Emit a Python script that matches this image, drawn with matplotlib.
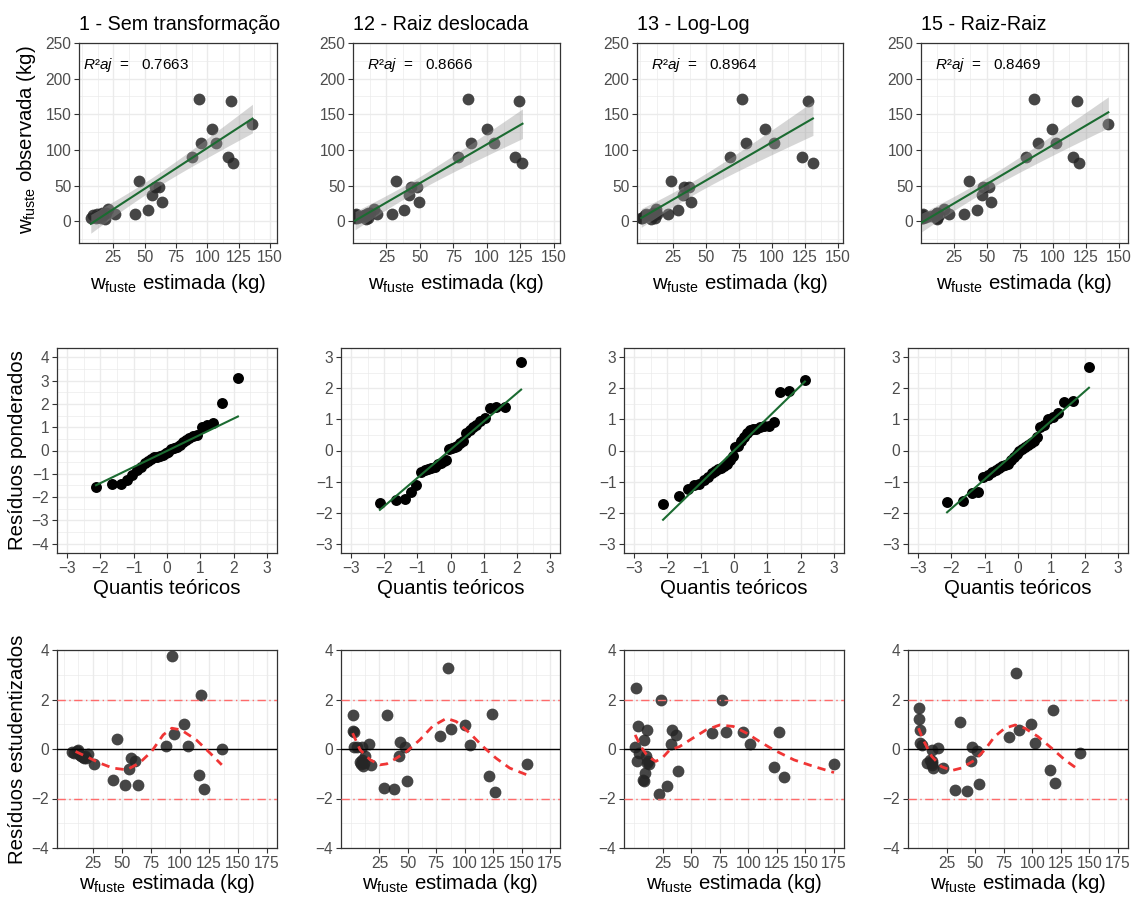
import numpy as np
import matplotlib
matplotlib.use("Agg")
import matplotlib.pyplot as plt

plt.rcParams["font.family"] = ["Liberation Sans", "DejaVu Sans"]
plt.rcParams["mathtext.fontset"] = "custom"
plt.rcParams["mathtext.rm"] = "Liberation Sans"
plt.rcParams["mathtext.it"] = "Liberation Sans:italic"
plt.rcParams["mathtext.bf"] = "Liberation Sans:bold"

W, H = 1136, 899

# ---- data ----
titles = ["1 - Sem transformação", "12 - Raiz deslocada", "13 - Log-Log", "15 - Raiz-Raiz"]
r2aj = ["0.7663", "0.8666", "0.8964", "0.8469"]

# observed stem biomass (kg), same trees for every model
obs = [171, 169, 136, 129, 110, 110, 90, 90, 81, 57, 48, 48, 36, 27, 16, 10, 17, 10,
       4, 8, 5, 10, 6, 7, 9, 5, 12, 8, 3, 11]

est_1 = [93, 118.5, 136, 103.5, 95, 107, 88, 116.5, 120.5, 45.5, 58, 61.5, 56, 63.5, 52.5, 42, 20.5, 26,
         7, 9, 11, 12, 13, 14, 15, 15.5, 16, 17, 18, 19]
est_12 = [85.5, 124, 155, 100, 88, 105, 78, 121, 126.5, 32, 43, 47.5, 42, 49, 38, 29, 15.5, 18,
          1.5, 1.5, 3, 2.5, 5, 9.5, 8, 11, 12.5, 9, 10, 11.5]
est_13 = [77, 127, 175, 95, 80.5, 101.5, 68, 122.5, 131, 23.5, 33.5, 37, 32.5, 38.5, 29, 21.5, 11.8, 13.2,
          1.5, 3.5, 0.9, 4.4, 2.9, 8.8, 10.3, 11.2, 9.7, 8.2, 8.5, 12]
est_15 = [86, 118.5, 142, 99, 88.5, 102.5, 79.5, 115.5, 120, 36.5, 47, 51.5, 46, 53, 42.5, 32.5, 17.8, 21.5,
          0.5, 0.5, 1.7, 1.7, 3.7, 7.5, 10.4, 11.9, 12.5, 13.4, 12.5, 12]

# studentized residuals
res_1 = [3.77, 2.19, 0.02, 1.01, 0.6, 0.14, 0.14, -1.06, -1.62, 0.42, -0.37, -0.48, -0.81, -1.47, -1.47, -1.24, -0.2, -0.6,
         -0.12, -0.15, -0.1, -0.03, -0.2, -0.25, -0.3, -0.28, -0.33, -0.35, -0.3, -0.38]
res_12 = [3.29, 1.42, -0.6, 0.98, 0.81, 0.18, 0.54, -1.11, -1.74, 1.38, 0.28, 0.1, -0.3, -1.31, -1.62, -1.58, 0.21, -0.64,
          1.38, 0.72, 0.67, 0.1, 0.1, 0.1, -0.54, -0.68, -0.3, -0.6, -0.45, -0.55]
res_13 = [1.96, 0.67, -0.6, 0.68, 0.7, 0.19, 0.64, -0.73, -1.15, 1.98, 0.77, 0.57, 0.2, -0.88, -1.49, -1.81, 0.75, -0.6,
          2.45, 0.93, 0.1, -0.17, -0.5, 0.37, -0.3, -0.57, -0.97, -1.24, -1.3, -0.5]
res_15 = [3.06, 1.58, -0.15, 1.02, 0.77, 0.26, 0.48, -0.84, -1.38, 1.11, 0.1, -0.1, -0.48, -1.42, -1.71, -1.67, 0.03, -0.77,
          1.65, 1.22, 0.77, 0.24, 0.17, -0.57, -0.44, -0.5, -0.64, -0.77, -0.03, -0.55]

# normal QQ: theoretical quantiles (n = 30) and sorted weighted residuals
qq_theo = [-2.128, -1.645, -1.383, -1.192, -1.036, -0.903, -0.783, -0.674, -0.573, -0.477,
           -0.385, -0.297, -0.210, -0.126, -0.042, 0.042, 0.126, 0.210, 0.297, 0.385,
           0.477, 0.573, 0.674, 0.783, 0.903, 1.036, 1.192, 1.383, 1.645, 2.128]
qq_1 = [-1.58, -1.45, -1.45, -1.25, -1.05, -0.85, -0.70, -0.55, -0.45, -0.35, -0.30, -0.28, -0.25, -0.20, -0.12,
        -0.05, 0.05, 0.10, 0.15, 0.25, 0.35, 0.45, 0.55, 0.62, 0.68, 1.00, 1.10, 1.18, 2.05, 3.13]
qq_12 = [-1.68, -1.58, -1.55, -1.33, -1.10, -0.68, -0.62, -0.60, -0.55, -0.52, -0.45, -0.40, -0.35, -0.30, 0.05,
         0.08, 0.12, 0.15, 0.25, 0.30, 0.55, 0.65, 0.75, 0.82, 0.95, 1.05, 1.36, 1.39, 1.40, 2.84]
qq_13 = [-1.72, -1.45, -1.25, -1.10, -1.08, -0.95, -0.85, -0.72, -0.65, -0.58, -0.55, -0.50, -0.45, -0.30, -0.18,
         0.10, 0.15, 0.30, 0.42, 0.55, 0.65, 0.68, 0.70, 0.75, 0.78, 0.80, 0.92, 1.87, 1.90, 2.28]
qq_15 = [-1.65, -1.62, -1.38, -1.33, -0.85, -0.78, -0.70, -0.62, -0.55, -0.50, -0.46, -0.44, -0.30, -0.20, -0.10,
         -0.02, 0.05, 0.12, 0.18, 0.25, 0.30, 0.45, 0.75, 0.82, 1.02, 1.08, 1.20, 1.55, 1.58, 2.70]
qq_line_x = [-2.128, 2.128]
qq_line_1 = [-1.49, 1.46]
qq_line_12 = [-1.91, 1.96]
qq_line_13 = [-2.23, 2.22]
qq_line_15 = [-1.99, 2.02]

# loess smoother of the residual plots
lo_x_1 = [10, 19, 31, 42, 54, 65, 75.5, 85.5, 93, 101, 114, 126, 136]
lo_y_1 = [-0.1, -0.3, -0.57, -0.77, -0.84, -0.57, -0.1, 0.57, 0.84, 0.77, 0.37, -0.17, -0.64]
lo_x_12 = [1.5, 8, 17, 25.5, 31.5, 40, 49, 60.5, 72, 84, 92.5, 104.5, 116, 127.5, 139.5, 155]
lo_y_12 = [0.64, -0.03, -0.44, -0.64, -0.6, -0.37, -0.1, 0.37, 0.93, 1.24, 1.11, 0.64, 0.1, -0.37, -0.77, -1.05]
lo_x_13 = [1, 6, 12, 19, 25, 31, 40, 51.5, 63, 75, 87, 98.5, 110, 122, 140, 157, 175]
lo_y_13 = [0.57, 0.1, -0.3, -0.5, -0.35, -0.05, 0.1, 0.44, 0.77, 0.97, 0.91, 0.64, 0.3, -0.03, -0.44, -0.7, -0.95]
lo_x_15 = [0.5, 4.5, 12, 20.5, 29.5, 38, 50, 58.5, 67, 76, 85, 93.5, 105, 117, 128.5, 141.5]
lo_y_15 = [0.84, 0.37, -0.3, -0.71, -0.87, -0.77, -0.44, -0.03, 0.5, 0.84, 0.97, 0.84, 0.5, 0.03, -0.44, -0.87]

ests = [est_1, est_12, est_13, est_15]
ress = [res_1, res_12, res_13, res_15]
qqs = [qq_1, qq_12, qq_13, qq_15]
qq_lines = [qq_line_1, qq_line_12, qq_line_13, qq_line_15]
los = [(lo_x_1, lo_y_1), (lo_x_12, lo_y_12), (lo_x_13, lo_y_13), (lo_x_15, lo_y_15)]

# ---- layout (pixels) ----
top_lr = [(79, 277), (353, 560), (637, 843), (921, 1128)]
low_lr = [(57, 277), (341, 560), (624, 844), (908, 1128)]
TOP_TB = (43, 242.5)
MID_TB = (348, 553)
BOT_TB = (650, 848)
top_xlim = [(-2.4, 155.6), (0.7, 154.5), (-2.3, 153.8), (2.7, 156.9)]
bot_xlim = [(-6, 183.6), (-8.75, 183.75), (-8.75, 183.75), (-8.75, 183.75)]
r2_xfrac = [0.019, 0.068, 0.068, 0.068]

GREEN = "#1b6b31"
XLAB = r"$\mathregular{w_{fuste}}$ estimada (kg)"


def rect(lr, tb):
    l, r = lr
    t, b = tb
    return [l / W, 1 - b / H, (r - l) / W, (b - t) / H]


def style(ax, xmaj, xmin, ymaj, ymin):
    ax.set_xticks(xmaj)
    ax.set_xticks(xmin, minor=True)
    ax.set_yticks(ymaj)
    ax.set_yticks(ymin, minor=True)
    ax.grid(which="major", color="#ebebeb", lw=1.0)
    ax.grid(which="minor", color="#ebebeb", lw=0.5)
    ax.set_axisbelow(True)
    ax.tick_params(which="major", labelsize=11.2, labelcolor="#4d4d4d", color="#333333",
                   length=3.5, width=0.8, pad=2)
    ax.tick_params(which="minor", length=0)
    for s in ax.spines.values():
        s.set_color("#333333")
        s.set_linewidth(0.9)


def lm_band(x, y, t=2.05):
    b1, b0 = np.polyfit(x, y, 1)
    xs = np.linspace(x.min(), x.max(), 80)
    fit = b0 + b1 * xs
    s = np.sqrt(np.sum((y - (b0 + b1 * x)) ** 2) / (len(x) - 2))
    se = s * np.sqrt(1 / len(x) + (xs - x.mean()) ** 2 / np.sum((x - x.mean()) ** 2))
    return xs, fit, fit - t * se, fit + t * se


fig = plt.figure(figsize=(W / 100, H / 100), dpi=100)
y_obs = np.array(obs, float)

for i in range(4):
    x_est = np.array(ests[i], float)

    # --- top: observed vs estimated ---
    ax = fig.add_axes(rect(top_lr[i], TOP_TB))
    keep = x_est <= 150
    ax.scatter(x_est[keep], y_obs[keep], s=72, color="#262626", alpha=0.85, lw=0, zorder=2)
    xs, fit, lo, hi = lm_band(x_est[keep], y_obs[keep])
    ax.fill_between(xs, lo, hi, color="#999999", alpha=0.4, lw=0, zorder=3)
    ax.plot(xs, fit, color=GREEN, lw=1.5, zorder=4)
    ax.set_xlim(*top_xlim[i])
    ax.set_ylim(-30, 250)
    style(ax, [25, 50, 75, 100, 125, 150], [0, 12.5, 37.5, 62.5, 87.5, 112.5, 137.5],
          [0, 50, 100, 150, 200, 250], [-25, 25, 75, 125, 175, 225])
    ax.text(r2_xfrac[i], 0.89, "$R²aj$  =   " + r2aj[i], transform=ax.transAxes,
            fontsize=11, ha="left", va="center")
    l, r = top_lr[i]
    fig.text(l / W, 1 - 30.5 / H, titles[i], fontsize=14.2, ha="left", va="baseline")
    fig.text((l + r) / 2 / W, 1 - 289 / H, XLAB, fontsize=14.7, ha="center", va="baseline")

    # --- middle: normal QQ of weighted residuals ---
    ax = fig.add_axes(rect(low_lr[i], MID_TB))
    ax.scatter(qq_theo, qqs[i], s=62, color="black", lw=0, zorder=2)
    ax.plot(qq_line_x, qq_lines[i], color=GREEN, lw=1.5, zorder=3)
    ax.set_xlim(-3.3, 3.3)
    xmaj = [-3, -2, -1, 0, 1, 2, 3]
    xmin = [-2.5, -1.5, -0.5, 0.5, 1.5, 2.5]
    if i == 0:
        ax.set_ylim(-4.4, 4.4)
        style(ax, xmaj, xmin, list(range(-4, 5)), [-3.5, -2.5, -1.5, -0.5, 0.5, 1.5, 2.5, 3.5])
    else:
        ax.set_ylim(-3.3, 3.3)
        style(ax, xmaj, xmin, xmaj, xmin)
    l, r = low_lr[i]
    fig.text((l + r) / 2 / W, 1 - 594 / H, "Quantis teóricos", fontsize=14.7, ha="center", va="baseline")

    # --- bottom: studentized residuals vs estimated ---
    ax = fig.add_axes(rect(low_lr[i], BOT_TB))
    ax.scatter(x_est, ress[i], s=72, color="#262626", alpha=0.85, lw=0, zorder=2)
    ax.axhline(0, color="black", lw=1.0, zorder=3)
    for yv in (-2, 2):
        ax.axhline(yv, color="#ff6b6b", lw=1.0, dashes=(6, 2.5, 1, 2.5), zorder=3)
    ax.plot(los[i][0], los[i][1], color="#f03535", lw=2.0, dashes=(3, 2.2), zorder=4)
    ax.set_xlim(*bot_xlim[i])
    ax.set_ylim(-4, 4)
    style(ax, [25, 50, 75, 100, 125, 150, 175], [0, 12.5, 37.5, 62.5, 87.5, 112.5, 137.5, 162.5],
          [-4, -2, 0, 2, 4], [-3, -1, 1, 3])
    fig.text((l + r) / 2 / W, 1 - 889 / H, XLAB, fontsize=14.7, ha="center", va="baseline")

fig.text(27 / W, 1 - 140 / H, r"$\mathregular{w_{fuste}}$ observada (kg)", fontsize=14.7,
         rotation=90, ha="center", va="center")
fig.text(18 / W, 1 - 450 / H, "Resíduos ponderados", fontsize=14.7, rotation=90, ha="center", va="center")
fig.text(18 / W, 1 - 749 / H, "Resíduos estudentizados", fontsize=14.7, rotation=90, ha="center", va="center")

fig.savefig("out.png", dpi=100)
